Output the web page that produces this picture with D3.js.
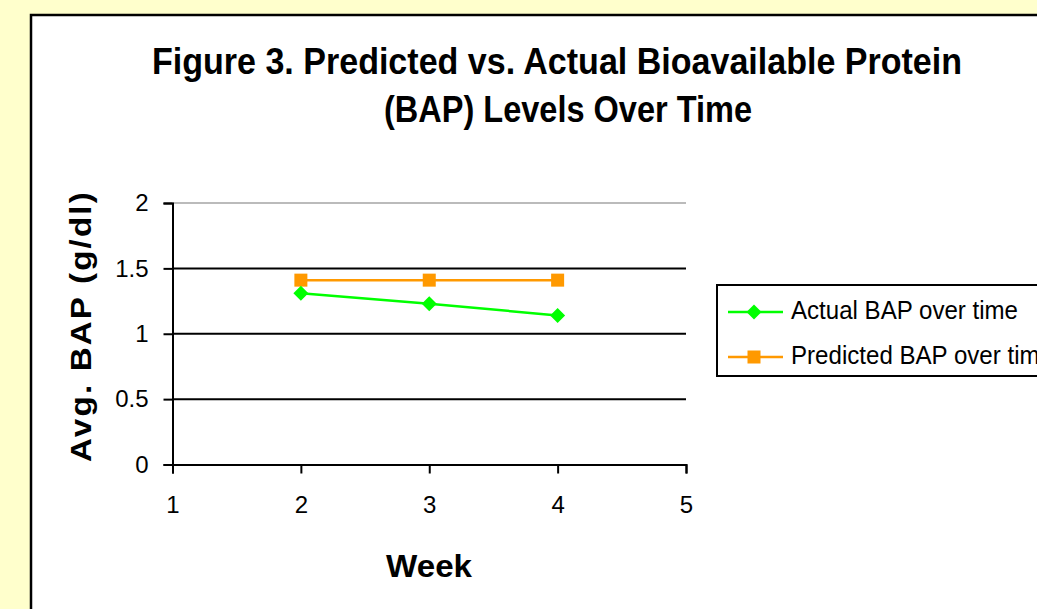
<!DOCTYPE html>
<html>
<head>
<meta charset="utf-8">
<script src="https://cdn.jsdelivr.net/npm/d3@7"></script>
<style>
  body { margin: 0; background: #FFFFCC; }
  svg { display: block; }
  text { font-family: "Liberation Sans", Arial, sans-serif; }
</style>
</head>
<body>
<svg id="chart"></svg>
<script>
// data
var weeks = [2, 3, 4];
var actualBAP = [1.31, 1.23, 1.14];
var predictedBAP = [1.41, 1.41, 1.41];
var xTicks = [1, 2, 3, 4, 5];
var yTicks = [0, 0.5, 1, 1.5, 2];
var seriesNames = ['Actual BAP over time', 'Predicted BAP over time'];

var W = 1037, H = 609;
var svg = d3.select("#chart").attr("width", W).attr("height", H);

// white chart area with black frame (runs off right/bottom)
svg.append("rect")
    .attr("x", 31).attr("y", 15)
    .attr("width", W + 20).attr("height", H + 20)
    .attr("fill", "white")
    .attr("stroke", "black")
    .attr("stroke-width", 2.5);

var x = d3.scaleLinear().domain([1, 5]).range([172.5, 686]);
var y = d3.scaleLinear().domain([0, 2]).range([464.5, 203]);

// gridlines
svg.append("g").selectAll("line")
    .data(yTicks.filter(d => d > 0))
    .enter().append("line")
    .attr("x1", x(1)).attr("x2", x(5))
    .attr("y1", d => y(d)).attr("y2", d => y(d))
    .attr("stroke", d => d === 2 ? "#bbbbbb" : "black")
    .attr("stroke-width", 2);

// axes
var yAxis = svg.append("g")
    .attr("transform", `translate(${x(1)},0)`)
    .call(d3.axisLeft(y).tickValues(yTicks).tickSize(9).tickPadding(15).tickFormat(d3.format("")));
var xAxis = svg.append("g")
    .attr("transform", `translate(0,${y(0)})`)
    .call(d3.axisBottom(x).tickValues(xTicks).tickSize(9).tickPadding(22).tickFormat(d3.format("d")));

[xAxis, yAxis].forEach(function (a) {
    a.select(".domain").attr("stroke", "black").attr("stroke-width", 2);
    a.selectAll(".tick line").attr("stroke", "black").attr("stroke-width", 2);
    a.selectAll(".tick text").attr("fill", "black")
        .style("font-size", "24px")
        .style("font-family", "'Liberation Sans', Arial, sans-serif");
});

// lines
var line = d3.line().x(d => x(d[0])).y(d => y(d[1]));
var actual = weeks.map((w, i) => [w, actualBAP[i]]);
var predicted = weeks.map((w, i) => [w, predictedBAP[i]]);

svg.append("path").datum(predicted)
    .attr("d", line).attr("fill", "none")
    .attr("stroke", "#FF9900").attr("stroke-width", 2.5);
svg.append("path").datum(actual)
    .attr("d", line).attr("fill", "none")
    .attr("stroke", "#00FF00").attr("stroke-width", 2.5);

svg.selectAll(".sq").data(predicted).enter().append("rect")
    .attr("x", d => x(d[0]) - 6.5).attr("y", d => y(d[1]) - 6.5)
    .attr("width", 13).attr("height", 13)
    .attr("fill", "#FF9900");
svg.selectAll(".dia").data(actual).enter().append("path")
    .attr("d", "M0,-7.5L7.5,0L0,7.5L-7.5,0Z")
    .attr("transform", d => `translate(${x(d[0])},${y(d[1])})`)
    .attr("fill", "#00FF00");

// titles
svg.append("text")
    .attr("x", 557).attr("y", 74)
    .attr("text-anchor", "middle")
    .attr("textLength", 810).attr("lengthAdjust", "spacingAndGlyphs")
    .style("font-size", "36px").style("font-weight", "bold")
    .text("Figure 3. Predicted vs. Actual Bioavailable Protein");
svg.append("text")
    .attr("x", 568).attr("y", 122)
    .attr("text-anchor", "middle")
    .attr("textLength", 368).attr("lengthAdjust", "spacingAndGlyphs")
    .style("font-size", "36px").style("font-weight", "bold")
    .text("(BAP) Levels Over Time");

svg.append("text")
    .attr("x", 429).attr("y", 577)
    .attr("text-anchor", "middle")
    .attr("textLength", 86).attr("lengthAdjust", "spacingAndGlyphs")
    .style("font-size", "31px").style("font-weight", "bold")
    .text("Week");

svg.append("text")
    .attr("transform", "translate(91,326) rotate(-90)")
    .attr("text-anchor", "middle")
    .attr("textLength", 272).attr("lengthAdjust", "spacingAndGlyphs")
    .style("font-size", "30px").style("font-weight", "bold")
    .style("letter-spacing", "2px")
    .text("Avg. BAP (g/dl)");

// legend
var lg = svg.append("g");
lg.append("rect")
    .attr("x", 717).attr("y", 285)
    .attr("width", 400).attr("height", 91)
    .attr("fill", "white").attr("stroke", "black").attr("stroke-width", 2);

var colors = ["#00FF00", "#FF9900"];
var legendLen = [227, 262];
seriesNames.forEach(function (name, i) {
    var ly = 312 + i * 45;
    lg.append("line")
        .attr("x1", 728).attr("x2", 783)
        .attr("y1", ly).attr("y2", ly)
        .attr("stroke", colors[i]).attr("stroke-width", 2.5);
    if (i === 0) {
        lg.append("path")
            .attr("d", "M0,-7.5L7.5,0L0,7.5L-7.5,0Z")
            .attr("transform", `translate(754,${ly})`)
            .attr("fill", colors[i]);
    } else {
        lg.append("rect")
            .attr("x", 747.5).attr("y", ly - 6.5)
            .attr("width", 13).attr("height", 13)
            .attr("fill", colors[i]);
    }
    lg.append("text")
        .attr("x", 791).attr("y", ly + 7)
        .attr("textLength", legendLen[i]).attr("lengthAdjust", "spacingAndGlyphs")
        .style("font-size", "26px")
        .text(name);
});
</script>
</body>
</html>
